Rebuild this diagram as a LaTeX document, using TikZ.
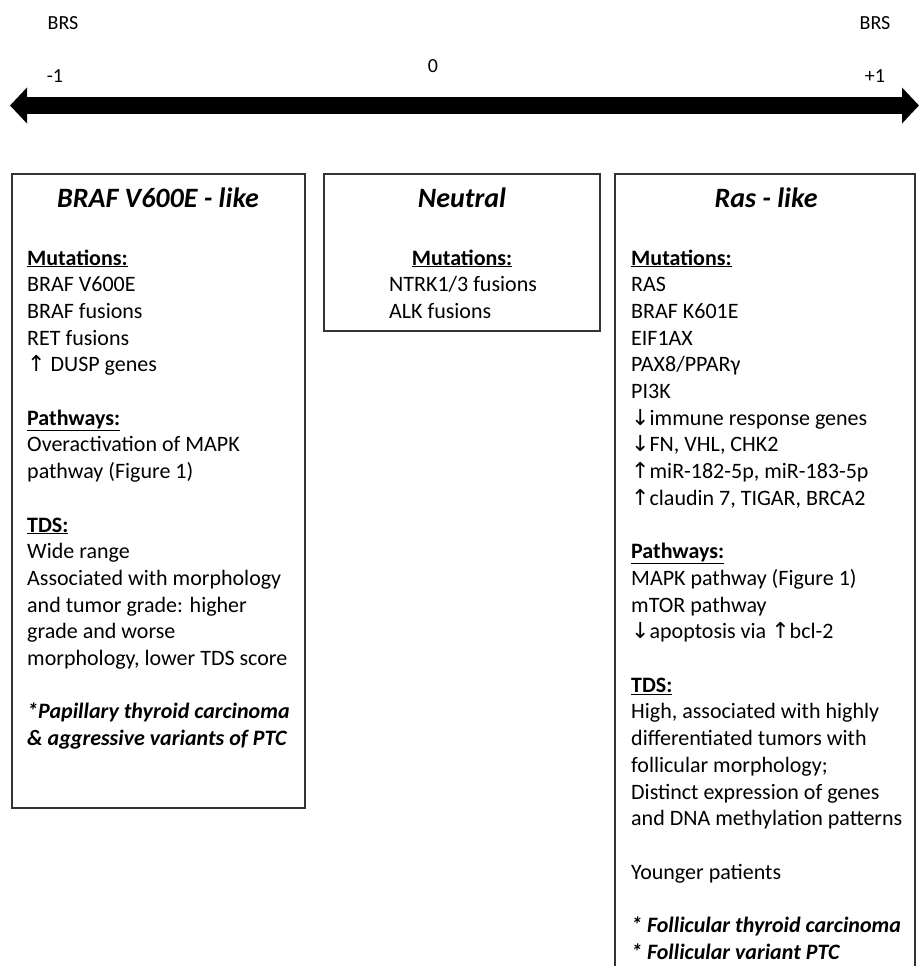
\documentclass[tikz,border=0pt]{standalone}
\usepackage{fontspec}
\setmainfont{Carlito}
\newfontfamily\arrowfont[Scale=1.0]{DejaVu Sans}
\usetikzlibrary{arrows.meta}

\newcommand{\uparr}{{\arrowfont ↑}}
\newcommand{\downarr}{{\arrowfont ↓}}
\newcommand{\heading}[1]{\underline{\textbf{#1}}}

\tikzset{
  panel/.style={draw=black!80, line width=1.2pt},
  paneltitle/.style={anchor=base, inner sep=0pt, font=\fontsize{28}{32}\selectfont\bfseries\itshape},
  bodyline/.style={anchor=base west, inner sep=0pt, font=\fontsize{22}{27}\selectfont},
  scalelabel/.style={anchor=base, inner sep=0pt, font=\fontsize{20}{24}\selectfont},
  scalebar/.style={line width=17pt, {Triangle[length=17pt,width=35pt]}-{Triangle[length=17pt,width=35pt]}}
}

\begin{document}
\begin{tikzpicture}[x=1pt,y=-1pt]
   \useasboundingbox (0,0) rectangle (921,966);
   \clip (0,0) rectangle (921,966);

   % scale on top
   \path
    (10,105.5) coordinate (sl)
    (919,105.5) coordinate (sr);
   \draw[scalebar] (sl) -- (sr);
   \node[scalelabel] (brsl) at (63,30) {BRS};
   \node[scalelabel] (brsr) at (875,30) {BRS};
   \node[scalelabel] (minus) at (55,82) {-1};
   \node[scalelabel] (zero) at (433,72) {0};
   \node[scalelabel] (plus) at (875,82) {+1};

   % three boxes
   \draw[panel] (12,174) rectangle (305,808);
   \draw[panel] (324,174) rectangle (600,331);
   \draw[panel] (615,174) rectangle (915,1000);

   \node[paneltitle] (braft) at (158,207) {BRAF V600E - like};
   \node[paneltitle] (neutt) at (462,207) {Neutral};
   \node[paneltitle] (rast) at (766,207) {Ras - like};

   % left box
   \foreach \txt [count=\i] in {\heading{Mutations:}, BRAF V600E, BRAF fusions,
     RET fusions, \uparr\ DUSP genes, {}, \heading{Pathways:},
     Overactivation of MAPK, pathway (Figure 1), {}, \heading{TDS:},
     Wide range, Associated with morphology, and tumor grade: higher,
     grade and worse, {morphology, lower TDS score}, {},
     \textbf{\textit{*Papillary thyroid carcinoma}},
     \textbf{\textit{\& aggressive variants of PTC}}}
     \node[bodyline] (braf\i) at ({27},{265+26.7*(\i-1)}) {\txt};

   % middle box
   \node[bodyline, anchor=base] (neut1) at (462,265) {\heading{Mutations:}};
   \node[bodyline] (neut2) at (389,291.7) {NTRK1/3 fusions};
   \node[bodyline] (neut3) at (389,318.4) {ALK fusions};

   % right box
   \foreach \txt [count=\i] in {\heading{Mutations:}, RAS, BRAF K601E, EIF1AX,
     PAX8/PPARγ, PI3K, \downarr immune response genes,
     {\downarr FN, VHL, CHK2}, {\uparr miR-182-5p, miR-183-5p},
     {\uparr claudin 7, TIGAR, BRCA2}, {}, \heading{Pathways:},
     MAPK pathway (Figure 1), mTOR pathway, \downarr apoptosis via \uparr bcl-2,
     {}, \heading{TDS:}, {High, associated with highly},
     differentiated tumors with, follicular morphology;,
     Distinct expression of genes, and DNA methylation patterns, {},
     Younger patients, {},
     \textbf{\textit{* Follicular thyroid carcinoma}},
     \textbf{\textit{* Follicular variant PTC}}}
     \node[bodyline] (ras\i) at ({631},{265+26.7*(\i-1)}) {\txt};
\end{tikzpicture}
\end{document}
